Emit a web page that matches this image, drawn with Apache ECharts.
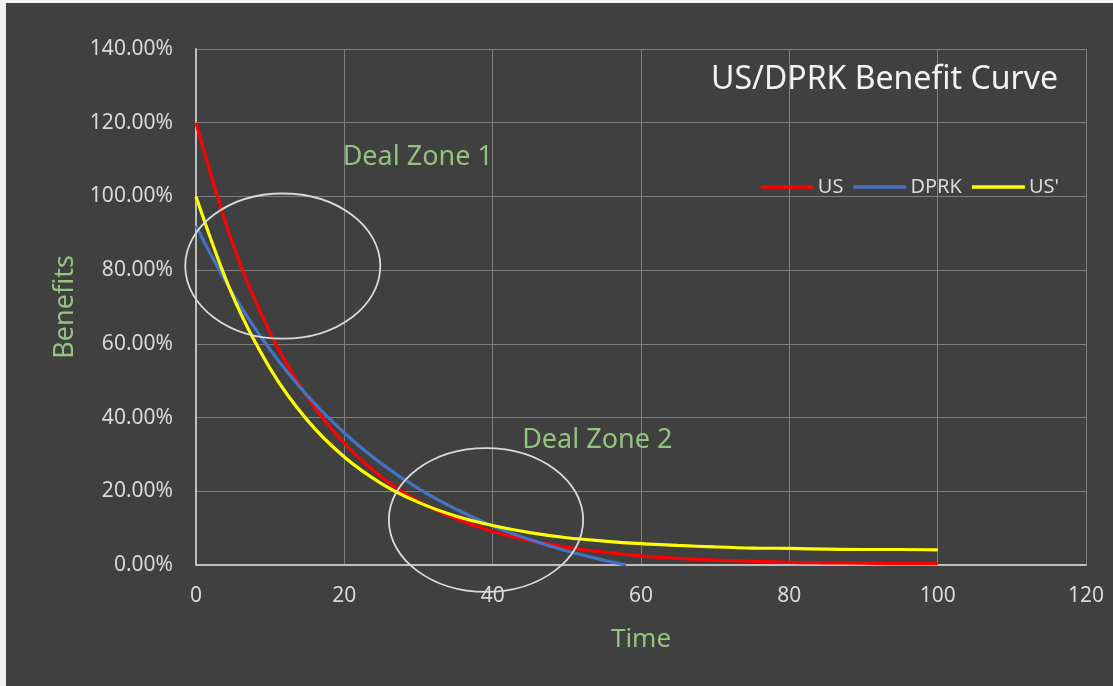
<!DOCTYPE html>
<html>
<head>
<meta charset="utf-8">
<script src="https://cdn.jsdelivr.net/npm/echarts@6/dist/echarts.min.js"></script>
<style>
  html, body { margin: 0; padding: 0; background: #f2f2f2; width: 1113px; height: 686px; overflow: hidden; }
  #chart { position: absolute; left: 6px; top: 3px; width: 1107px; height: 683px; }
</style>
</head>
<body>
<div id="chart"></div>
<script>
// ---- data ----
const time = [0, 5, 10, 15, 20, 25, 30, 35, 40, 45, 50, 55, 60, 65, 70, 75, 80, 85, 90, 95, 100];
const usValues = [120, 86.9, 63.0, 45.6, 33.0, 23.9, 17.3, 12.6, 9.1, 6.6, 4.8, 3.5, 2.5, 1.8, 1.3, 1.0, 0.7, 0.6, 0.5, 0.4, 0.4];
const usPrimeValues = [100, 72.8, 53.3, 39.3, 29.3, 22.1, 17.0, 13.3, 10.7, 8.8, 7.4, 6.5, 5.8, 5.3, 4.9, 4.6, 4.5, 4.3, 4.2, 4.2, 4.1];
const dprkTime = [0, 5, 10, 15, 20, 25, 30, 35, 40, 45, 50, 55, 58];
const dprkValues = [92, 73.5, 58.4, 46.0, 35.8, 27.5, 20.7, 15.2, 10.6, 6.9, 3.8, 1.3, 0];
const seriesNames = ['US', 'DPRK', "US'"];
const xTicks = { min: 0, max: 120, interval: 20 };
const yTicks = { min: 0, max: 140, interval: 20 };
// annotation ellipses: [centerTime, centerBenefit, radiusTime, radiusBenefit]
const zoneEllipses = [[11.7, 81.1, 13.15, 19.7], [39.1, 12.2, 13.1, 19.5]];
// annotation labels: [time, benefit]
const zoneLabelPos = [[29.9, 110.7], [54.1, 33.9]];
const zoneLabelText = ['Deal Zone 1', 'Deal Zone 2'];
const titleText = 'US/DPRK Benefit Curve';

const FONT = 'Noto Sans';
const GREEN = '#93c47d';
const TXT = '#d9d9d9';

const pairs = (xs, ys) => xs.map((x, i) => [x, ys[i]]);

const chart = echarts.init(document.getElementById('chart'), null, { renderer: 'canvas' });
chart.setOption({
  backgroundColor: '#404040',
  animation: false,
  textStyle: { fontFamily: FONT },
  title: {
    text: titleText,
    right: 50,
    top: 56,
    textStyle: { color: '#f2f2f2', fontSize: 32, fontWeight: 'normal', fontFamily: FONT }
  },
  legend: {
    data: seriesNames,
    icon: 'rect',
    right: 49,
    top: 169,
    itemWidth: 53,
    itemHeight: 3.5,
    itemGap: 10,
    textStyle: { color: TXT, fontSize: 20, fontFamily: FONT, padding: [0, 0, 0, -1] }
  },
  grid: { left: 190, top: 46, right: 27, bottom: 121, containLabel: false },
  xAxis: {
    type: 'value',
    min: xTicks.min, max: xTicks.max, interval: xTicks.interval,
    name: 'Time',
    nameLocation: 'middle',
    nameGap: 62,
    nameTextStyle: { color: GREEN, fontSize: 26, fontFamily: FONT },
    axisLine: { show: true, lineStyle: { color: '#bfbfbf', width: 2 } },
    axisTick: { show: false },
    axisLabel: { color: TXT, fontSize: 21, margin: 21, fontFamily: FONT },
    splitLine: { show: true, lineStyle: { color: '#7f7f7f', width: 1 } }
  },
  yAxis: {
    type: 'value',
    min: yTicks.min, max: yTicks.max, interval: yTicks.interval,
    name: 'Benefits',
    nameLocation: 'middle',
    nameGap: 117,
    nameTextStyle: { color: GREEN, fontSize: 27, fontFamily: FONT },
    axisLine: { show: true, lineStyle: { color: '#bfbfbf', width: 2 } },
    axisTick: { show: false },
    axisLabel: { color: TXT, fontSize: 21, margin: 23, fontFamily: FONT,
      formatter: v => v.toFixed(2) + '%' },
    splitLine: { show: true, lineStyle: { color: '#7f7f7f', width: 1 } }
  },
  series: [
    {
      name: seriesNames[0], type: 'line', data: pairs(time, usValues),
      smooth: 0.35, symbol: 'none',
      lineStyle: { color: '#ff0000', width: 3.2 }, itemStyle: { color: '#ff0000' }
    },
    {
      name: seriesNames[1], type: 'line', data: pairs(dprkTime, dprkValues),
      smooth: 0.35, symbol: 'none',
      lineStyle: { color: '#4472c4', width: 3.2 }, itemStyle: { color: '#4472c4' }
    },
    {
      name: seriesNames[2], type: 'line', data: pairs(time, usPrimeValues),
      smooth: 0.35, symbol: 'none',
      lineStyle: { color: '#ffff00', width: 3.2 }, itemStyle: { color: '#ffff00' }
    },
    {
      name: 'zones', type: 'custom', silent: true, clip: false, z: 5,
      data: zoneEllipses,
      encode: { x: 0, y: 1 },
      renderItem: (params, api) => {
        const c = api.coord([api.value(0), api.value(1)]);
        const s = api.size([api.value(2), api.value(3)]);
        return {
          type: 'ellipse',
          shape: { cx: c[0], cy: c[1], rx: s[0], ry: s[1] },
          style: { fill: null, stroke: '#d9d9d9', lineWidth: 1.8 }
        };
      }
    },
    {
      name: 'zoneLabels', type: 'custom', silent: true, clip: false, z: 6,
      data: zoneLabelPos,
      encode: { x: 0, y: 1 },
      renderItem: (params, api) => {
        const c = api.coord([api.value(0), api.value(1)]);
        return {
          type: 'text',
          x: c[0], y: c[1],
          style: {
            text: zoneLabelText[params.dataIndex],
            fill: GREEN, fontSize: 27, fontFamily: FONT,
            align: 'center', verticalAlign: 'middle'
          }
        };
      }
    }
  ]
});
</script>
</body>
</html>
